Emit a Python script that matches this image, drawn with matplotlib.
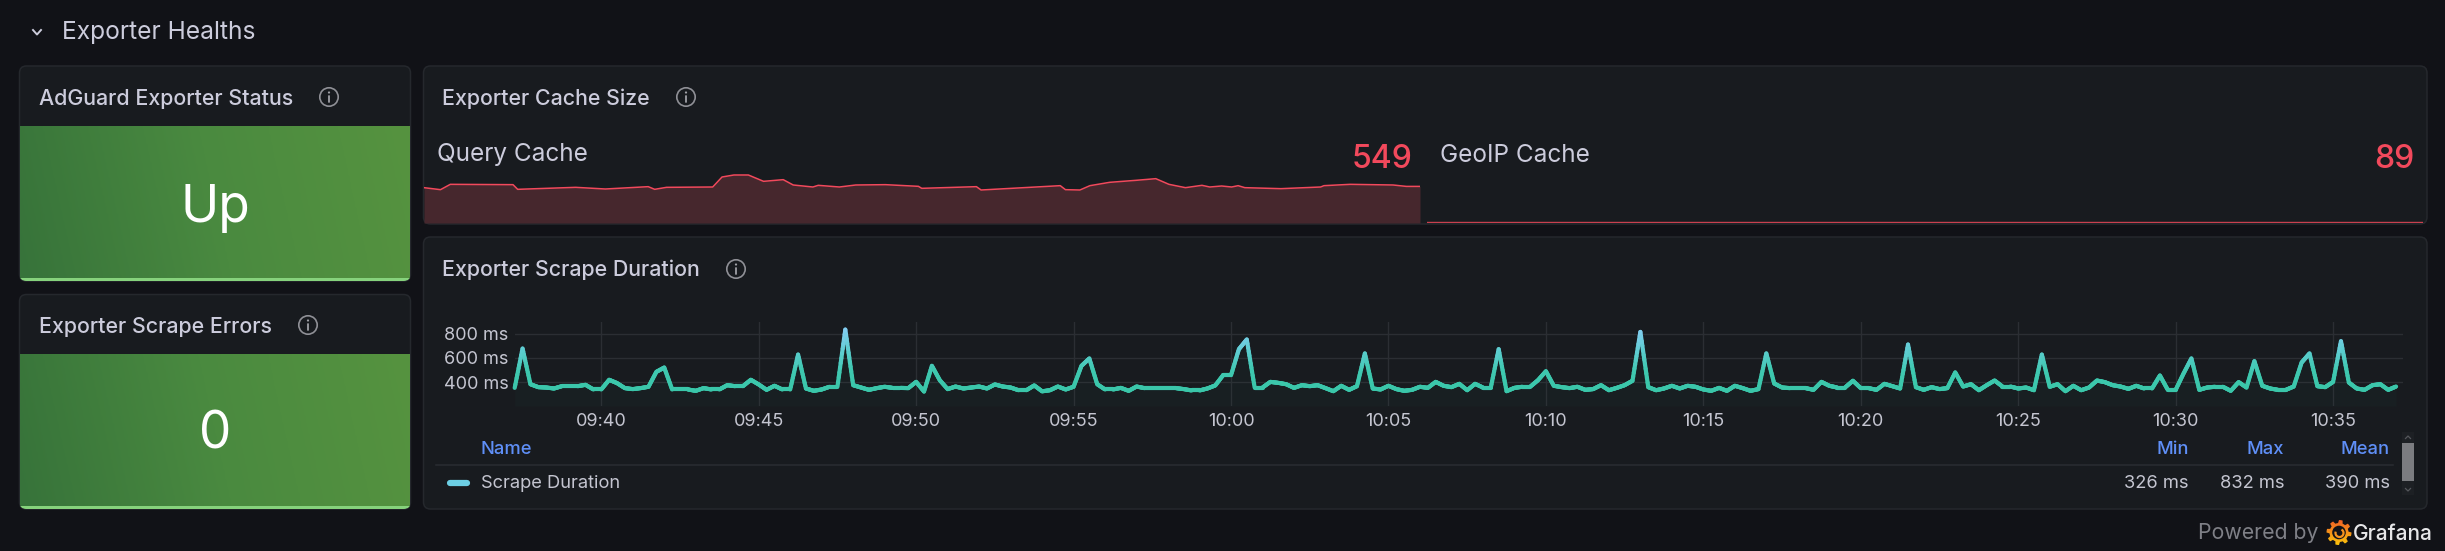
import numpy as np
import matplotlib
matplotlib.use("Agg")
import matplotlib.pyplot as plt
from matplotlib.patches import FancyBboxPatch, Circle, Polygon, Rectangle, Arc
from matplotlib.collections import LineCollection
from matplotlib.colors import LinearSegmentedColormap

W, H = 2445, 551
plt.rcParams["font.family"] = ["Inter", "DejaVu Sans"]

# scrape duration in ms, one sample every 15 s from 09:37:15
scrape_start = 37.25
scrape_step = 0.25
scrape_ms = [
    356, 677, 386, 362, 359, 351, 370, 370, 370, 381, 343, 343, 422, 395, 354, 346, 354, 365, 487, 522,
    343, 343, 343, 332, 354, 343, 343, 378, 370, 370, 422, 384, 340, 373, 343, 343, 628, 351, 332, 343,
    365, 365, 832, 378, 359, 340, 354, 365, 356, 356, 354, 405, 326, 536, 419, 346, 367, 351, 359, 367,
    351, 384, 367, 359, 337, 337, 376, 328, 337, 367, 343, 365, 536, 596, 386, 343, 343, 356, 332, 367,
    354, 354, 354, 354, 354, 346, 335, 335, 351, 376, 460, 460, 672, 751, 359, 359, 405, 397, 386, 356,
    378, 370, 378, 354, 329, 373, 340, 370, 637, 351, 343, 373, 346, 332, 340, 365, 356, 405, 373, 362,
    389, 337, 389, 359, 359, 672, 329, 356, 365, 365, 419, 492, 373, 362, 354, 365, 340, 346, 378, 337,
    356, 378, 414, 813, 362, 337, 351, 373, 351, 373, 365, 343, 332, 356, 332, 373, 354, 332, 346, 637,
    392, 359, 354, 354, 354, 340, 405, 373, 359, 359, 414, 354, 354, 340, 389, 370, 351, 710, 362, 340,
    362, 346, 354, 482, 367, 386, 337, 378, 416, 367, 367, 351, 359, 337, 628, 365, 386, 329, 373, 337,
    359, 416, 403, 378, 367, 348, 373, 351, 351, 457, 340, 340, 473, 596, 340, 359, 365, 365, 332, 403,
    359, 574, 373, 351, 340, 340, 367, 563, 637, 370, 362, 405, 737, 400, 351, 340, 378, 386, 340, 367,
]

# query cache sparkline, minutes past 09:00 and entries
query_minutes = [
    37.25, 38.24, 38.83, 42.59, 42.87, 46.35, 48.13, 50.70, 51.09, 51.80, 54.57, 55.13, 55.84, 56.71, 57.62, 58.80,
    59.40, 60.58, 60.90, 62.17, 63.15, 64.93, 66.91, 67.11, 70.39, 70.67, 75.42, 75.73, 76.60, 77.20, 78.38, 79.96,
    81.15, 81.94, 82.93, 83.92, 84.39, 85.10, 85.70, 86.09, 86.49, 88.66, 91.04, 91.24, 92.82, 95.39, 96.18, 97.00,
]
query_values = [
    530, 500, 580, 575, 505, 535, 510, 545, 505, 535, 540, 690, 720, 720, 625, 650,
    570, 540, 565, 540, 570, 575, 550, 520, 545, 495, 560, 500, 495, 560, 610, 640,
    665, 580, 530, 565, 540, 555, 540, 560, 530, 515, 540, 560, 580, 570, 549, 549,
]
geoip_minutes = [37.25, 97.00]
geoip_values = [89, 89]

tick_minutes = [40, 45, 50, 55, 60, 65, 70, 75, 80, 85, 90, 95]
tick_labels = ["09:40", "09:45", "09:50", "09:55", "10:00", "10:05", "10:10", "10:15", "10:20", "10:25", "10:30", "10:35"]
y_ticks = [400, 600, 800]
y_labels = ["400 ms", "600 ms", "800 ms"]
legend_name = "Scrape Duration"
legend_columns = ["Min", "Max", "Mean"]
legend_stats = ["326 ms", "832 ms", "390 ms"]

BG = "#111217"
PANEL = "#181b1f"
BORDER = "#25282d"
TEXT = "#ccccdc"
DIM = "#c4c5d0"
BLUE = "#5f8ff7"
RED = "#f2495c"


def rect(x0, y0, x1, y1):
    return [x0 / W, 1 - y1 / H, (x1 - x0) / W, (y1 - y0) / H]


def panel(x0, y0, x1, y1):
    p = FancyBboxPatch((x0, y0), x1 - x0, y1 - y0, boxstyle="round,pad=0,rounding_size=7",
                       fc=PANEL, ec=BORDER, lw=1.1, zorder=1)
    bg.add_patch(p)
    return p


def info_icon(x, y):
    bg.add_patch(Circle((x, y), 9.2, fc="none", ec="#8f9096", lw=1.2, zorder=3))
    bg.plot([x, x], [y - 1, y + 5], color="#a0a1a7", lw=1.3, zorder=3, solid_capstyle="round")
    bg.add_patch(Circle((x, y - 4.5), 1.1, fc="#a0a1a7", ec="none", zorder=3))


def stat_tile(x0, y0, x1, y1, clip):
    # green fill runs dark to light, slightly tilted
    xx, yy = np.meshgrid(np.linspace(0, 1, 200), np.linspace(0, 1, 60))
    im = bg.imshow(xx * 0.92 + (1 - yy) * 0.08, extent=[x0, x1, y1, y0], cmap=green_map, vmin=0, vmax=1,
                   aspect="auto", zorder=2, interpolation="bilinear")
    im.set_clip_path(clip)
    line = Rectangle((x0, y1 - 2.5), x1 - x0, 2.5, fc="#86d27c", ec="none", zorder=3)
    bg.add_patch(line)
    line.set_clip_path(clip)


fig = plt.figure(figsize=(W / 100, H / 100), dpi=100, facecolor=BG)
bg = fig.add_axes([0, 0, 1, 1])
bg.set_facecolor(BG)
bg.axis("off")

green_map = LinearSegmentedColormap.from_list("green", ["#37733a", "#4a8a40", "#56933f"])

# panels
p1 = panel(19.5, 66, 410.5, 281)
p2 = panel(19.5, 294.5, 410.5, 509)
p3 = panel(423.5, 66, 2427, 224)
p4 = panel(423.5, 237, 2427, 509)

stat_tile(20, 127, 410, 280.5, p1)
stat_tile(20, 355, 410, 508.5, p2)

# row header
bg.plot([33, 37, 41], [30, 34.5, 30], color=TEXT, lw=1.4, zorder=3)
bg.text(62, 32, "Exporter Healths", color=TEXT, fontsize=17.7, va="center", ha="left", zorder=4)

# panel titles
title_kw = dict(color=TEXT, fontsize=15.4, va="center", ha="left", fontweight="medium", zorder=4)
bg.text(39, 99, "AdGuard Exporter Status", **title_kw)
bg.text(39, 327, "Exporter Scrape Errors", **title_kw)
bg.text(442.5, 98.5, "Exporter Cache Size", **title_kw)
bg.text(442.5, 270, "Exporter Scrape Duration", **title_kw)
info_icon(329, 97)
info_icon(308, 325)
info_icon(686, 97)
info_icon(736, 269)

bg.text(215, 208.5, "Up", color="white", fontsize=37, va="center", ha="center", zorder=4)
bg.text(215, 435, "0", color="white", fontsize=37, va="center", ha="center", zorder=4)

bg.text(437, 155, "Query Cache", color=TEXT, fontsize=17.5, va="center", ha="left", zorder=4)
bg.text(1440, 155, "GeoIP Cache", color=TEXT, fontsize=17.5, va="center", ha="left", zorder=4)
bg.text(1412, 159, "549", color=RED, fontsize=23, va="center", ha="right", fontweight="medium", zorder=4)
bg.text(2415, 159, "89", color=RED, fontsize=23, va="center", ha="right", fontweight="medium", zorder=4)

# legend table
leg_font = 13.2
bg.text(481, 449, "Name", color=BLUE, fontsize=leg_font, va="center", ha="left", fontweight="medium", zorder=4)
bg.plot([436, 2393], [465, 465], color="#2a2d32", lw=1.1, zorder=3)
bg.plot([450, 467], [483, 483], color="#6ccfe4", lw=4.5, solid_capstyle="round", zorder=4)
bg.text(481, 483.5, legend_name, color=DIM, fontsize=leg_font, va="center", ha="left", zorder=4)
for right, name, stat in zip([2189, 2284, 2390], legend_columns, legend_stats):
    bg.text(right, 449, name, color=BLUE, fontsize=leg_font, va="center", ha="right", fontweight="medium", zorder=4)
    bg.text(right, 483.7, stat, color=DIM, fontsize=leg_font, va="center", ha="right", zorder=4)

# scrollbar
bg.add_patch(Rectangle((2402, 432), 12, 63, fc="#1d2024", ec="none", zorder=3))
bg.add_patch(Rectangle((2402, 443), 12, 38, fc="#7b7c80", ec="none", zorder=4))
bg.plot([2405.5, 2408, 2410.5], [438.5, 436, 438.5], color="#55575c", lw=0.9, zorder=4)
bg.plot([2405.5, 2408, 2410.5], [488.5, 491, 488.5], color="#55575c", lw=0.9, zorder=4)

# footer
bg.text(2319, 533, "Powered by", color="#7f8087", fontsize=15.3, va="center", ha="right", zorder=4)
bg.text(2353, 533.5, "Grafana", color="#e6e6e8", fontsize=15, va="center", ha="left", fontweight="medium", zorder=4)
ang = np.linspace(0, 2 * np.pi, 65)
rad = np.where(np.arange(65) % 8 < 4, 12.5, 9.5)
gear = Polygon(np.column_stack([2339 + rad * np.cos(ang), 532.5 + rad * np.sin(ang)]), closed=True, fc="none", ec="none")
bg.add_patch(gear)
logo_map = LinearSegmentedColormap.from_list("logo", ["#f05a28", "#fbca0a"])
logo = bg.imshow(np.linspace(0, 1, 40).reshape(-1, 1), extent=[2325, 2353, 547, 518], cmap=logo_map,
                 aspect="auto", zorder=4)
logo.set_clip_path(gear)
bg.add_patch(Circle((2339, 532.5), 6.8, fc=BG, ec="none", zorder=5))
bg.add_patch(Arc((2339.5, 533), 8, 8, theta1=-60, theta2=200, ec="#f6931e", lw=1.6, zorder=6))

bg.set_xlim(0, W)
bg.set_ylim(H, 0)

# sparklines
spark = fig.add_axes(rect(424, 165, 1420, 223))
spark.patch.set_alpha(0)
spark.axis("off")
spark.fill_between(query_minutes, query_values, 0, color="#46272d", lw=0, alpha=1)
spark.plot(query_minutes, query_values, color=RED, lw=1.1)
spark.set_xlim(37.25, 97.0)
spark.set_ylim(0, 870)

spark2 = fig.add_axes(rect(1427, 165, 2423, 223))
spark2.patch.set_alpha(0)
spark2.axis("off")
spark2.plot(geoip_minutes, geoip_values, color="#c9404f", lw=1.0)
spark2.set_xlim(37.25, 97.0)
spark2.set_ylim(88, 146)

# scrape duration time series
ax = fig.add_axes(rect(515, 322, 2403, 406))
ax.patch.set_alpha(0)
for side in ax.spines.values():
    side.set_visible(False)
times = scrape_start + scrape_step * np.arange(len(scrape_ms))
ax.fill_between(times, scrape_ms, 208, color="#3cc8ac", alpha=0.025, lw=0)

# line colour follows the value, so every stretch is split into short pieces
line_map = LinearSegmentedColormap.from_list("scrape", ["#3ac6a9", "#3fc8b0", "#5fcdd2", "#85cdf3"])
pieces = []
shades = []
for i in range(len(times) - 1):
    tt = np.linspace(times[i], times[i + 1], 13)
    vv = np.linspace(scrape_ms[i], scrape_ms[i + 1], 13)
    for j in range(12):
        pieces.append([(tt[j], vv[j]), (tt[j + 1], vv[j + 1])])
        shades.append((vv[j] + vv[j + 1]) / 2)
lc = LineCollection(pieces, array=np.array(shades), cmap=line_map, norm=plt.Normalize(330, 832),
                    linewidths=3.0, capstyle="round", zorder=3, clip_on=False)
ax.add_collection(lc)

ax.set_xlim(37.26, 97.22)
ax.set_ylim(208, 894)
ax.set_xticks(tick_minutes)
ax.set_xticklabels(tick_labels)
ax.set_yticks(y_ticks)
ax.set_yticklabels(y_labels)
ax.tick_params(axis="both", length=0, labelsize=13, labelcolor=DIM)
ax.tick_params(axis="x", pad=5)
ax.tick_params(axis="y", pad=4.8)
ax.grid(True, color="#2b2e33", lw=1.0)
ax.set_axisbelow(True)

fig.savefig("out.png", dpi=100, facecolor=BG)
